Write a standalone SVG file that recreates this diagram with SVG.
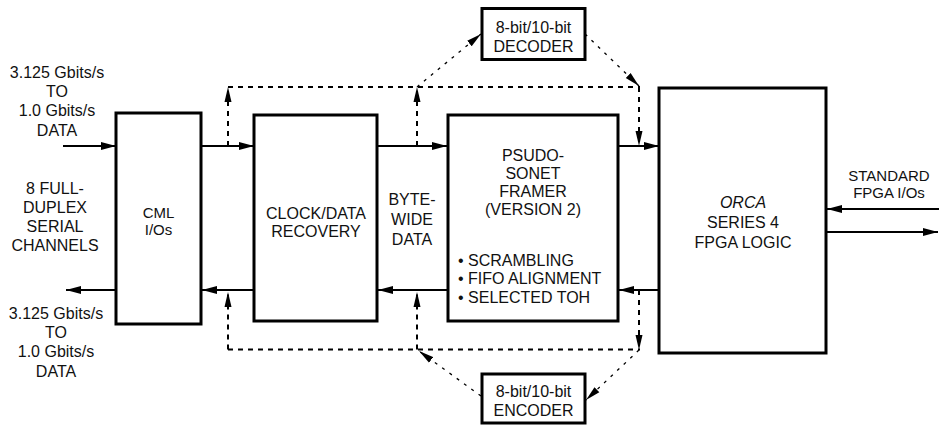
<svg xmlns="http://www.w3.org/2000/svg" width="939" height="426" viewBox="0 0 939 426">
<defs>
<style>
.box{fill:#fff;stroke:#000;stroke-width:3}
.t{font-family:"Liberation Sans",Arial,sans-serif;font-size:16px;fill:#111;text-anchor:middle}
.ts{font-family:"Liberation Sans",Arial,sans-serif;font-size:15px;fill:#111;text-anchor:middle}
.tl{font-family:"Liberation Sans",Arial,sans-serif;font-size:16px;fill:#111;text-anchor:start}
.solid{fill:none;stroke:#000;stroke-width:2;marker-end:url(#ah)}
.dash{fill:none;stroke:#000;stroke-width:2;stroke-dasharray:5 5}
.dashA{fill:none;stroke:#000;stroke-width:2;stroke-dasharray:5 5;marker-end:url(#ah2)}
.dot{fill:none;stroke:#000;stroke-width:1.3;stroke-dasharray:3 6;marker-end:url(#ah2)}
</style>
<marker id="ah" markerUnits="userSpaceOnUse" markerWidth="15" markerHeight="8" refX="15" refY="4" orient="auto">
<path d="M0,0 L15,4 L0,8 z" fill="#000"/>
</marker>
<marker id="ah2" markerUnits="userSpaceOnUse" markerWidth="15" markerHeight="8" refX="15" refY="4" orient="auto">
<path d="M0,0.5 L15,4 L0,7.5 z" fill="#000"/>
</marker>
</defs>
<rect width="939" height="426" fill="#fff"/>

<g id="connectors">
<path class="solid" d="M63,146 L116,146"/>
<path class="solid" d="M201,146 L254,146"/>
<path class="solid" d="M377,146 L447,146"/>
<path class="solid" d="M618,146 L659,146"/>
<path class="solid" d="M659,290 L619,290"/>
<path class="solid" d="M448,290 L378,290"/>
<path class="solid" d="M254,290 L202,290"/>
<path class="solid" d="M116,290 L66,290"/>
<path class="solid" d="M939,209 L827,209"/>
<path class="solid" d="M827,232 L938,232"/>

<path class="dashA" d="M228,146 L228,87"/>
<path class="dashA" d="M417,146 L417,87"/>
<path class="dash" d="M228,87 L640,87"/>
<path class="dot" d="M417,87 L481,34"/>
<path class="dot" d="M585,34 L639,86"/>
<path class="dashA" d="M639,87 L639,146"/>

<path class="dashA" d="M228,349.5 L228,292"/>
<path class="dashA" d="M417,349.5 L417,292"/>
<path class="dash" d="M228,349.5 L640,349.5"/>
<path class="dashA" d="M639,290 L639,350"/>
<path class="dot" d="M639,350 L586,400"/>
<path class="dot" d="M481,396 L419,351"/>
</g>

<g id="cml">
<rect class="box" x="116" y="113" width="85" height="211"/>
<text class="ts" x="158.5" y="218">CML</text>
<text class="ts" x="158.5" y="235">I/Os</text>
</g>

<g id="cdr">
<rect class="box" x="254" y="115" width="123" height="206"/>
<text class="t" x="316" y="218.5">CLOCK/DATA</text>
<text class="t" x="316" y="237">RECOVERY</text>
</g>

<g id="framer">
<rect class="box" x="448" y="115" width="170" height="206"/>
<text class="t" x="533" y="160.5">PSUDO-</text>
<text class="t" x="533" y="178.5">SONET</text>
<text class="t" x="533" y="197">FRAMER</text>
<text class="t" x="533" y="215">(VERSION 2)</text>
<text class="tl" x="458" y="265.5">• SCRAMBLING</text>
<text class="tl" x="458" y="284">• FIFO ALIGNMENT</text>
<text class="tl" x="458" y="302.5">• SELECTED TOH</text>
</g>

<g id="fpga">
<rect class="box" x="659" y="88" width="167" height="265"/>
<text class="t" x="743" y="208" font-style="italic">ORCA</text>
<text class="t" x="743" y="228">SERIES 4</text>
<text class="t" x="743" y="248">FPGA LOGIC</text>
</g>

<g id="decoder">
<rect class="box" x="482" y="8.5" width="103" height="51"/>
<text class="t" x="533.5" y="32.5">8-bit/10-bit</text>
<text class="t" x="533.5" y="51.5">DECODER</text>
</g>

<g id="encoder">
<rect class="box" x="482" y="374" width="103" height="49"/>
<text class="t" x="533.5" y="396.5">8-bit/10-bit</text>
<text class="t" x="533.5" y="416">ENCODER</text>
</g>

<g id="label-in">
<text class="t" x="57" y="78">3.125 Gbits/s</text>
<text class="t" x="57" y="97">TO</text>
<text class="t" x="57" y="116">1.0 Gbits/s</text>
<text class="t" x="57" y="135.5">DATA</text>
</g>

<g id="label-channels">
<text class="t" x="55" y="194">8 FULL-</text>
<text class="t" x="55" y="213">DUPLEX</text>
<text class="t" x="55" y="232">SERIAL</text>
<text class="t" x="55" y="251">CHANNELS</text>
</g>

<g id="label-out">
<text class="t" x="56" y="319">3.125 Gbits/s</text>
<text class="t" x="56" y="338">TO</text>
<text class="t" x="56" y="357">1.0 Gbits/s</text>
<text class="t" x="56" y="376.5">DATA</text>
</g>

<g id="label-bytewide">
<text class="t" x="412" y="204.5">BYTE-</text>
<text class="t" x="412" y="225">WIDE</text>
<text class="t" x="412" y="245">DATA</text>
</g>

<g id="label-std">
<text class="ts" x="889" y="180.5">STANDARD</text>
<text class="ts" x="889" y="197.5">FPGA I/Os</text>
</g>
</svg>
